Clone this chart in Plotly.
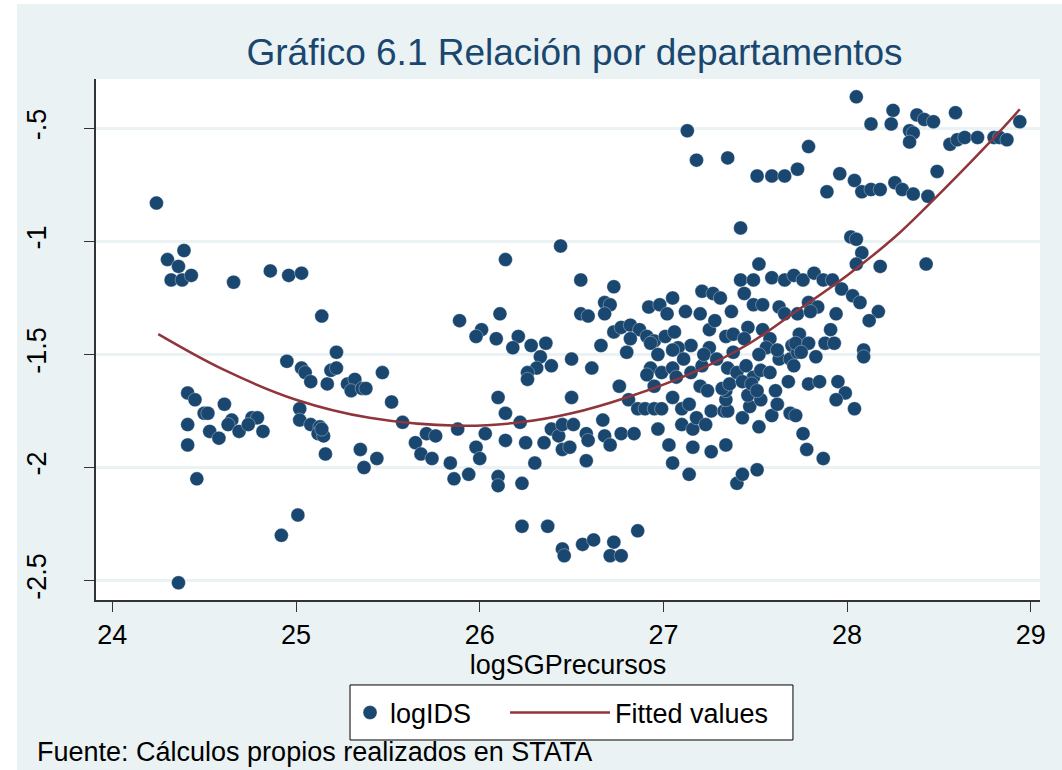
import plotly.graph_objects as go

# logSGPrecursos (x) and logIDS (y)
log_sgp = [
    24.24, 24.30, 24.39, 24.36, 24.32, 24.38, 24.43, 24.66, 24.86, 24.96, 25.03, 25.14,
    24.95, 25.03, 25.05, 25.08, 25.17, 25.19, 24.41, 24.45, 24.61, 24.50, 24.52, 24.41,
    24.65, 24.63, 24.53, 24.58, 24.69, 24.76, 24.79, 24.74, 24.82, 24.41, 24.46, 25.02,
    25.02, 25.08, 25.13, 25.12, 25.15, 25.14, 25.16, 25.01, 24.92, 24.36,
    26.44, 26.14, 25.89, 26.11, 26.01, 25.98, 26.09, 26.21, 26.18, 26.28, 26.36, 25.22,
    25.22, 25.28, 25.32, 25.30, 25.36, 25.38, 25.47, 25.52, 25.58, 25.35, 25.37, 25.44,
    25.65, 25.71, 25.76, 25.68, 25.74, 25.88, 25.84, 25.86, 25.94, 25.98, 26.00, 26.03,
    26.10, 26.14, 26.22, 26.14, 26.25, 26.35, 26.30, 26.10, 26.10, 26.23, 26.23, 26.37,
    26.45, 26.46, 26.39, 26.43, 26.45, 26.45, 26.33, 26.39, 26.31, 26.26, 26.26,
    27.13, 27.18, 27.35, 27.51, 27.59, 27.66, 27.73, 27.42, 26.55, 26.73, 27.52, 27.42,
    27.49, 27.59, 27.66, 27.71, 27.44, 26.68, 26.71, 26.68, 26.55, 26.59, 26.92, 26.98,
    27.02, 27.05, 27.12, 27.20, 27.21, 27.27, 27.31, 27.37, 27.49, 27.54, 27.63, 27.66,
    27.73, 26.73, 26.77, 26.82, 26.87, 26.82, 26.91, 26.95, 26.66, 27.01, 27.06, 27.15,
    27.08, 27.25, 27.28, 27.34, 27.38, 27.46, 27.44, 27.54, 27.58, 27.70, 27.74, 27.25,
    26.50, 26.61, 26.80, 26.93, 26.97, 26.93, 26.91, 26.99, 26.95, 26.76, 26.50, 26.81,
    26.86, 26.90, 26.95, 26.99, 26.67, 26.51, 26.49, 26.58, 26.59, 26.58, 26.68, 26.71,
    26.77, 26.84, 26.97, 27.03, 27.05, 27.14, 27.05, 27.10, 27.14, 27.10, 27.16, 27.18,
    27.23, 27.16, 27.26, 27.34, 27.40, 27.43, 27.51, 27.26, 27.33, 27.35, 27.34, 27.34,
    27.43, 27.52, 27.47, 27.46, 27.53, 27.59, 27.62, 27.61, 27.69, 27.68, 27.05, 27.11,
    27.05, 27.07, 27.15, 27.21, 27.22, 27.29, 27.38, 27.35, 27.40, 27.45, 27.49, 27.53,
    27.58, 27.63, 27.69, 27.73, 27.71, 27.20, 27.24, 27.32, 27.36, 27.43, 27.48, 27.51,
    27.56, 27.62, 27.52, 26.56, 26.62, 26.73, 26.71, 26.77, 26.86,
    28.05, 28.13, 28.25, 28.24, 28.38, 28.42, 28.47, 28.34, 28.36, 28.34, 28.59, 28.56,
    28.60, 28.64, 28.71, 28.80, 28.83, 28.87, 28.94, 27.79, 27.96, 27.89, 28.04, 28.08,
    28.13, 28.18, 28.26, 28.30, 28.36, 28.44, 28.49, 28.02, 28.05, 28.08, 28.05, 28.18,
    28.43, 27.76, 27.82, 27.87, 27.92, 27.97, 28.03, 28.07, 28.17, 28.12, 27.94, 27.91,
    27.79, 27.84, 27.80, 27.72, 27.79, 27.88, 27.93, 28.09,
    27.75, 27.83, 28.09, 27.79, 27.85, 27.95, 27.99, 27.94, 28.04, 27.72, 27.76, 27.78,
    27.87,
]
log_ids = [
    -0.83, -1.08, -1.04, -1.11, -1.17, -1.17, -1.15, -1.18, -1.13, -1.15, -1.14, -1.33,
    -1.53, -1.56, -1.58, -1.62, -1.63, -1.57, -1.67, -1.70, -1.72, -1.76, -1.76, -1.81,
    -1.79, -1.81, -1.84, -1.87, -1.84, -1.78, -1.78, -1.81, -1.84, -1.90, -2.05, -1.74,
    -1.79, -1.81, -1.82, -1.85, -1.86, -1.83, -1.94, -2.21, -2.30, -2.51,
    -1.02, -1.08, -1.35, -1.32, -1.39, -1.42, -1.43, -1.42, -1.47, -1.46, -1.45, -1.49,
    -1.56, -1.63, -1.61, -1.66, -1.65, -1.65, -1.58, -1.71, -1.80, -1.92, -2.00, -1.96,
    -1.89, -1.85, -1.86, -1.94, -1.96, -1.83, -1.98, -2.05, -2.03, -1.91, -1.96, -1.85,
    -1.69, -1.76, -1.80, -1.88, -1.89, -1.89, -1.98, -2.04, -2.08, -2.07, -2.26, -2.26,
    -2.36, -2.39, -1.83, -1.86, -1.92, -1.81, -1.51, -1.55, -1.56, -1.58, -1.61,
    -0.51, -0.64, -0.63, -0.71, -0.71, -0.71, -0.68, -0.94, -1.17, -1.20, -1.10, -1.17,
    -1.17, -1.16, -1.17, -1.15, -1.23, -1.27, -1.28, -1.32, -1.32, -1.33, -1.29, -1.28,
    -1.32, -1.25, -1.31, -1.32, -1.22, -1.23, -1.25, -1.31, -1.28, -1.28, -1.29, -1.32,
    -1.32, -1.40, -1.38, -1.37, -1.39, -1.43, -1.42, -1.44, -1.46, -1.42, -1.40, -1.46,
    -1.47, -1.39, -1.35, -1.42, -1.41, -1.38, -1.43, -1.39, -1.43, -1.46, -1.41, -1.47,
    -1.52, -1.56, -1.49, -1.45, -1.50, -1.56, -1.59, -1.58, -1.64, -1.64, -1.69, -1.70,
    -1.74, -1.74, -1.74, -1.74, -1.79, -1.81, -1.91, -1.85, -1.88, -1.97, -1.86, -1.90,
    -1.85, -1.85, -1.83, -1.90, -1.98, -2.03, -1.69, -1.74, -1.72, -1.81, -1.83, -1.78,
    -1.81, -1.91, -1.93, -1.90, -2.07, -2.03, -2.01, -1.75, -1.75, -1.75, -1.70, -1.66,
    -1.78, -1.82, -1.73, -1.68, -1.70, -1.77, -1.72, -1.66, -1.76, -1.62, -1.48, -1.52,
    -1.56, -1.60, -1.58, -1.55, -1.50, -1.52, -1.49, -1.56, -1.58, -1.55, -1.60, -1.57,
    -1.58, -1.52, -1.52, -1.49, -1.55, -1.64, -1.66, -1.65, -1.63, -1.62, -1.63, -1.66,
    -1.47, -1.48, -1.50, -2.34, -2.32, -2.33, -2.39, -2.39, -2.28,
    -0.36, -0.48, -0.42, -0.48, -0.44, -0.46, -0.47, -0.51, -0.52, -0.56, -0.43, -0.57,
    -0.55, -0.54, -0.54, -0.54, -0.54, -0.55, -0.47, -0.58, -0.70, -0.78, -0.73, -0.78,
    -0.77, -0.77, -0.74, -0.77, -0.79, -0.80, -0.69, -0.98, -0.99, -1.05, -1.10, -1.11,
    -1.10, -1.17, -1.14, -1.17, -1.17, -1.21, -1.24, -1.27, -1.31, -1.35, -1.32, -1.39,
    -1.27, -1.29, -1.31, -1.45, -1.45, -1.45, -1.45, -1.48,
    -1.49, -1.51, -1.51, -1.63, -1.62, -1.62, -1.67, -1.70, -1.74, -1.77, -1.85, -1.92,
    -1.96,
]

# quadratic fit line
fit_x = [24.25, 24.60, 25.00, 25.40, 25.89, 26.22, 26.50, 26.80, 27.16, 27.47,
         27.72, 28.00, 28.26, 28.44, 28.76, 28.94]
fit_y = [-1.41, -1.565, -1.70, -1.78, -1.815, -1.80, -1.76, -1.69, -1.58, -1.45,
         -1.31, -1.15, -0.98, -0.84, -0.575, -0.415]

x_ticks = [24, 25, 26, 27, 28, 29]
y_ticks = [-2.5, -2, -1.5, -1, -0.5]
y_ticktext = ['-2.5', '-2', '-1.5', '-1', '-.5']

NAVY = '#1A476F'
MAROON = '#90353B'
BG = '#EAF2F3'
FONT = 'Liberation Sans, Arial, sans-serif'

fig = go.Figure()

fig.add_trace(go.Scatter(
    x=log_sgp, y=log_ids,
    mode='markers', name='logIDS', legend='legend',
    marker=dict(color=NAVY, size=14, line=dict(color='rgba(255,255,255,0.55)', width=0.6)),
))
fig.add_trace(go.Scatter(
    x=fit_x, y=fit_y,
    mode='lines', name='Fitted values', legend='legend2',
    line=dict(color=MAROON, width=2.5, shape='spline'),
))

# Stata style legend: one bordered box, marker key short, line key long
legend_common = dict(
    orientation='h', xref='paper', yref='paper', xanchor='left',
    y=-0.2169, yanchor='middle', bgcolor='rgba(0,0,0,0)', borderwidth=0,
    font=dict(size=27),
)

fig.update_layout(
    width=1062, height=770,
    margin=dict(l=96, r=22, t=79, b=170),
    paper_bgcolor=BG,
    plot_bgcolor='white',
    font=dict(family=FONT, size=27, color='black'),
    title=dict(
        text='Gráfico 6.1 Relación por departamentos',
        font=dict(size=37, color=NAVY),
        xref='container', x=0.541, xanchor='center',
        yref='container', y=0.933, yanchor='middle',
    ),
    legend=dict(legend_common, x=0.2691, itemwidth=30),
    legend2=dict(legend_common, x=0.4333, itemwidth=100),
    showlegend=True,
)

fig.update_xaxes(
    range=[23.911, 29.05],
    tickvals=x_ticks,
    ticks='outside', ticklen=10, tickcolor='#333', tickwidth=1.2,
    showline=True, linecolor='#333', linewidth=1.5,
    showgrid=False, zeroline=False,
    title=dict(text='logSGPrecursos', standoff=2, font=dict(size=27)),
)
fig.update_yaxes(
    range=[-2.586, -0.281],
    tickvals=y_ticks, ticktext=y_ticktext, tickangle=-90,
    ticks='outside', ticklen=10, tickcolor='#333', tickwidth=1.2,
    ticklabelstandoff=27,
    showline=True, linecolor='#333', linewidth=1.5,
    showgrid=True, gridcolor=BG, gridwidth=2.5, zeroline=False,
)

# legend frame
fig.add_shape(type='rect', xref='paper', yref='paper', layer='below',
              x0=0.2691, x1=0.7383, y0=-0.2687, y1=-0.1631,
              fillcolor='white', line=dict(color='black', width=1))

# white border strips on the left and top of the exported image
fig.add_shape(type='rect', xref='paper', yref='paper', layer='above',
              x0=-0.11, x1=-0.0837, y0=-0.34, y1=1.16,
              fillcolor='white', line=dict(width=0))
fig.add_shape(type='rect', xref='paper', yref='paper', layer='above',
              x0=-0.11, x1=1.03, y0=1.144, y1=1.16,
              fillcolor='white', line=dict(width=0))

fig.add_annotation(
    text='Fuente: Cálculos propios realizados en STATA',
    xref='paper', yref='paper', x=-0.0646, y=-0.292,
    xanchor='left', yanchor='middle', showarrow=False,
    font=dict(size=27, color='black'),
)

# drop the browser's default body margin so the figure sits at the page corner
fig.write_html('out.html', config={'displayModeBar': False},
               post_script='document.body.style.margin = "0px";')
